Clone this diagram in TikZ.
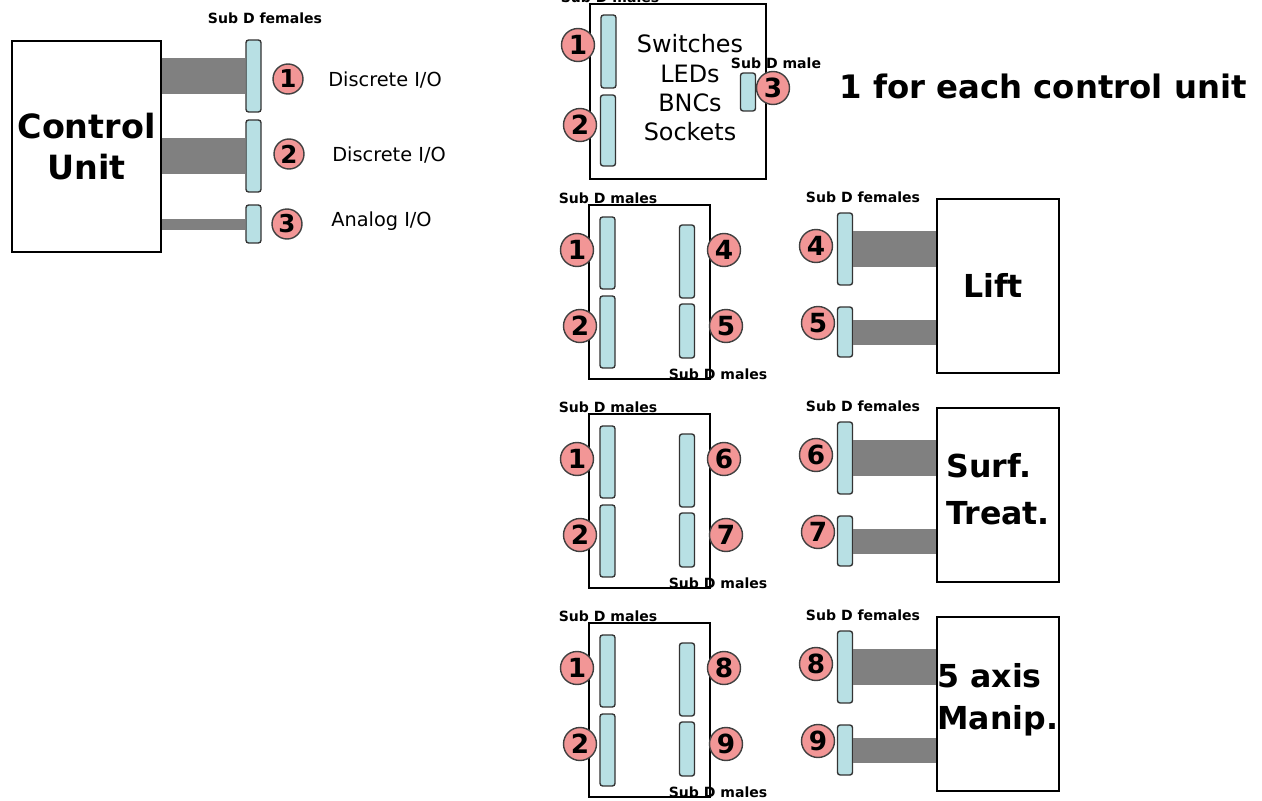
\documentclass[tikz,border=0pt]{standalone}
\usepackage{fontspec}
\setmainfont{DejaVu Sans}
\usetikzlibrary{positioning}

\definecolor{pinred}{RGB}{242,150,150}
\definecolor{plugblue}{RGB}{184,224,228}
\definecolor{cablegrey}{RGB}{128,128,128}

\tikzset{
  plug/.style={draw=black!80, fill=plugblue, rounded corners=1.5pt, line width=0.8pt,
    minimum width=0.3cm, inner sep=0pt},
  pin/.style={circle, draw=black!75, fill=pinred, line width=0.8pt, minimum size=0.66cm,
    inner sep=0pt, font=\fontsize{15}{15}\selectfont\bfseries},
  smallpin/.style={pin, minimum size=0.6cm, font=\fontsize{14}{14}\selectfont\bfseries},
  unit/.style={draw, line width=0.7pt, inner sep=0pt},
  subd/.style={inner sep=0pt, font=\fontsize{8}{9}\selectfont\bfseries},
  iolabel/.style={anchor=west, inner sep=0pt, font=\fontsize{11}{12}\selectfont},
  cable/.style={draw=cablegrey},
}

\begin{document}
\begin{tikzpicture}[x=0.02cm, y=-0.02cm]
    \useasboundingbox (0,0) rectangle (1262,801);

    % control unit and its sockets
    \node[unit, minimum width=2.98cm, minimum height=4.22cm, align=center,
      font=\fontsize{19}{23.3}\selectfont\bfseries] (cu) at (86.5,146.5) {Control\\Unit};
    \node[plug, minimum height=1.44cm] (f1) at (253.5,76) {};
    \node[plug, minimum height=1.44cm] (f2) at (253.5,156) {};
    \node[plug, minimum height=0.76cm] (f3) at (253.5,224) {};
    \draw[cable, line width=0.72cm] (cu.east |- f1) -- (f1.west);
    \draw[cable, line width=0.72cm] (cu.east |- f2) -- (f2.west);
    \draw[cable, line width=0.22cm] (cu.east |- f3) -- (f3.west);
    \node[smallpin] (n1) at (288,79) {1};
    \node[smallpin] (n2) at (289,154) {2};
    \node[smallpin] (n3) at (287,224) {3};
    \node[subd] (fem) at (265,18) {Sub D females};
    \node[iolabel] (io1) at (328,80) {Discrete I/O};
    \node[iolabel] (io2) at (332,155) {Discrete I/O};
    \node[iolabel] (io3) at (331,221) {Analog I/O};

    % front panel
    \node[unit, minimum width=3.52cm, minimum height=3.5cm] (panel) at (678,91.5) {};
    \node[align=center, inner sep=0pt, font=\fontsize{13.6}{16.7}\selectfont] (ptext) at (690,88)
      {Switches\\LEDs\\BNCs\\Sockets};
    \node[plug, minimum height=1.46cm] (p1) at (608.5,51.5) {};
    \node[plug, minimum height=1.42cm] (p2) at (608,130.5) {};
    \node[plug, minimum height=0.76cm] (p3) at (748,92) {};
    \node[pin] (pn1) at (578,45) {1};
    \node[pin] (pn2) at (580,125) {2};
    \node[pin] (pn3) at (773,88) {3};
    \node[subd] (pmales) at (610,-3) {Sub D males};
    \node[subd] (pmale) at (776,63) {Sub D male};
    \node[inner sep=0pt, font=\fontsize{18.4}{20}\selectfont\bfseries] (each) at (1043,86)
      {1 for each control unit};

    % distribution boxes and the units they feed
    \foreach \r/\a/\b/\dy in {1/4/5/0, 2/6/7/209, 3/8/9/418} {
      \node[unit, minimum width=2.42cm, minimum height=3.48cm] (dist\r) at (649.5,{292+\dy}) {};
      \node[plug, minimum height=1.44cm] (da\r) at (607.5,{253+\dy}) {};
      \node[plug, minimum height=1.44cm] (db\r) at (607.5,{332+\dy}) {};
      \node[plug, minimum height=1.46cm] (dc\r) at (687,{261.5+\dy}) {};
      \node[plug, minimum height=1.08cm] (dd\r) at (687,{331+\dy}) {};
      \node[pin] (dn1\r) at (577,{250+\dy}) {1};
      \node[pin] (dn2\r) at (580,{326+\dy}) {2};
      \node[pin] (dna\r) at (724,{250+\dy}) {\a};
      \node[pin] (dnb\r) at (726,{326+\dy}) {\b};
      \node[subd] (dtop\r) at (608,{198+\dy}) {Sub D males};
      \node[subd] (dbot\r) at (718,{374+\dy}) {Sub D males};

      \node[unit, minimum width=2.44cm, minimum height=3.48cm] (dev\r) at (998,{286+\dy}) {};
      \node[plug, minimum height=1.44cm] (ua\r) at (845,{249+\dy}) {};
      \node[plug, minimum height=1.0cm] (ub\r) at (845,{332+\dy}) {};
      \draw[cable, line width=0.72cm] (ua\r.east) -- (dev\r.west |- ua\r.east);
      \draw[cable, line width=0.5cm] (ub\r.east) -- (dev\r.west |- ub\r.east);
      \node[pin] (una\r) at (816,{246+\dy}) {\a};
      \node[pin] (unb\r) at (818,{323+\dy}) {\b};
      \node[subd] (utop\r) at (863,{197+\dy}) {Sub D females};
    }

    \node[inner sep=0pt, font=\fontsize{18}{20}\selectfont\bfseries] (lift) at (993,285) {Lift};
    \node[anchor=west, align=left, inner sep=0pt, font=\fontsize{18}{26.7}\selectfont\bfseries]
      (surf) at (946,489) {Surf.\\Treat.};
    \node[anchor=west, align=left, inner sep=0pt, font=\fontsize{18}{24}\selectfont\bfseries]
      (manip) at (937,700) {5 axis\\Manip.};
\end{tikzpicture}
\end{document}
